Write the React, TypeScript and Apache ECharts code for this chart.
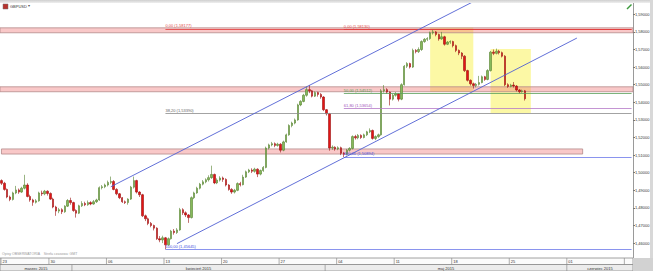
import { useEffect, useRef } from "react";
import * as echarts from "echarts";

const SYMBOL = "GBPUSD";
const SLOT_COUNT = 220;
const Y_MIN = 1.45;
const Y_MAX = 1.6;
const Y_STEP = 0.01;

// [open, close, low, high], one candle every 6 hours from 23.03.2015
const CANDLES: number[][] = [
  [1.4955, 1.494, 1.493, 1.4962], [1.494, 1.4905, 1.4898, 1.4948], [1.4905, 1.4862, 1.4855, 1.491], [1.4862, 1.4848, 1.4838, 1.487],
  [1.4848, 1.4885, 1.4842, 1.4892], [1.4885, 1.4902, 1.4878, 1.4925], [1.4902, 1.489, 1.488, 1.491], [1.489, 1.4912, 1.4885, 1.492],
  [1.4912, 1.493, 1.4905, 1.4988], [1.493, 1.4865, 1.486, 1.494], [1.4865, 1.4845, 1.4835, 1.4875], [1.4845, 1.4832, 1.4812, 1.4852],
  [1.4832, 1.484, 1.4825, 1.485], [1.484, 1.4885, 1.4835, 1.4892], [1.4885, 1.488, 1.4868, 1.4898], [1.488, 1.4895, 1.4872, 1.4902],
  [1.4895, 1.4882, 1.487, 1.49], [1.4882, 1.485, 1.4845, 1.4888], [1.485, 1.4805, 1.4798, 1.4858], [1.4805, 1.4782, 1.4755, 1.4812],
  [1.4782, 1.479, 1.477, 1.48], [1.479, 1.4778, 1.4765, 1.4798], [1.4778, 1.481, 1.4772, 1.4815], [1.481, 1.4842, 1.4805, 1.485],
  [1.4842, 1.483, 1.4818, 1.4858], [1.483, 1.4785, 1.4778, 1.4835], [1.4785, 1.477, 1.4745, 1.4792], [1.477, 1.4812, 1.4765, 1.4818],
  [1.4812, 1.4825, 1.4805, 1.4838], [1.4825, 1.4818, 1.481, 1.4835], [1.4818, 1.483, 1.4812, 1.4842], [1.483, 1.4822, 1.4815, 1.4838],
  [1.4822, 1.4835, 1.4818, 1.4845], [1.4835, 1.4845, 1.4828, 1.4852], [1.4845, 1.4915, 1.484, 1.4922], [1.4915, 1.492, 1.4905, 1.493],
  [1.492, 1.493, 1.4912, 1.4938], [1.493, 1.4945, 1.4922, 1.4955], [1.4945, 1.495, 1.4935, 1.4978], [1.495, 1.4905, 1.49, 1.4958],
  [1.4905, 1.488, 1.4872, 1.4912], [1.488, 1.4858, 1.485, 1.4885], [1.4858, 1.4835, 1.4828, 1.4862], [1.4835, 1.483, 1.4822, 1.4842],
  [1.483, 1.485, 1.4818, 1.4855], [1.485, 1.4918, 1.4845, 1.4925], [1.4918, 1.4955, 1.491, 1.4978], [1.4955, 1.489, 1.4882, 1.496],
  [1.489, 1.4875, 1.4862, 1.4895], [1.4875, 1.4755, 1.4748, 1.488], [1.4755, 1.4738, 1.4725, 1.4762], [1.4738, 1.4712, 1.4702, 1.4745],
  [1.4712, 1.47, 1.469, 1.472], [1.47, 1.4685, 1.4672, 1.4705], [1.4685, 1.4625, 1.4618, 1.469], [1.4625, 1.4618, 1.4605, 1.464],
  [1.4618, 1.463, 1.46, 1.4642], [1.463, 1.459, 1.4565, 1.4635], [1.459, 1.4625, 1.4585, 1.4632], [1.4625, 1.4668, 1.462, 1.4675],
  [1.4668, 1.466, 1.4648, 1.468], [1.466, 1.4675, 1.4652, 1.4685], [1.4675, 1.479, 1.467, 1.48], [1.479, 1.4772, 1.476, 1.4798],
  [1.4772, 1.476, 1.4748, 1.478], [1.476, 1.4745, 1.4715, 1.4765], [1.4745, 1.4858, 1.474, 1.4865], [1.4858, 1.4885, 1.485, 1.4892],
  [1.4885, 1.4912, 1.488, 1.492], [1.4912, 1.4935, 1.4905, 1.4942], [1.4935, 1.4948, 1.4928, 1.4958], [1.4948, 1.496, 1.494, 1.4968],
  [1.496, 1.4972, 1.495, 1.4985], [1.4972, 1.499, 1.4965, 1.504], [1.499, 1.4942, 1.4935, 1.4995], [1.4942, 1.4958, 1.4935, 1.4968],
  [1.4958, 1.497, 1.495, 1.498], [1.497, 1.4962, 1.4948, 1.4978], [1.4962, 1.493, 1.4922, 1.4968], [1.493, 1.4905, 1.4898, 1.4935],
  [1.4905, 1.489, 1.488, 1.4912], [1.489, 1.49, 1.4882, 1.4908], [1.49, 1.4938, 1.4895, 1.4945], [1.4938, 1.4932, 1.4922, 1.4948],
  [1.4932, 1.4975, 1.4928, 1.4988], [1.4975, 1.5005, 1.497, 1.5012], [1.5005, 1.5015, 1.4998, 1.5022], [1.5015, 1.5008, 1.4998, 1.5025],
  [1.5008, 1.502, 1.5, 1.5028], [1.502, 1.4992, 1.4975, 1.5025], [1.4992, 1.5012, 1.4985, 1.5018], [1.5012, 1.503, 1.5005, 1.5038],
  [1.503, 1.514, 1.5025, 1.5148], [1.514, 1.5158, 1.5132, 1.5165], [1.5158, 1.5165, 1.515, 1.5175], [1.5165, 1.5155, 1.5145, 1.5172],
  [1.5155, 1.5162, 1.5148, 1.517], [1.5162, 1.5128, 1.5115, 1.5168], [1.5128, 1.5175, 1.5122, 1.5182], [1.5175, 1.5215, 1.517, 1.5222],
  [1.5215, 1.5268, 1.521, 1.5275], [1.5268, 1.5282, 1.5258, 1.529], [1.5282, 1.53, 1.5275, 1.5308], [1.53, 1.5385, 1.5295, 1.5392],
  [1.5385, 1.5405, 1.5378, 1.5412], [1.5405, 1.544, 1.54, 1.5448], [1.544, 1.5472, 1.5432, 1.549], [1.5472, 1.5465, 1.5452, 1.5498],
  [1.5465, 1.5435, 1.5428, 1.547], [1.5435, 1.5455, 1.543, 1.5462], [1.5455, 1.5445, 1.5432, 1.546], [1.5445, 1.543, 1.542, 1.5452],
  [1.543, 1.5358, 1.535, 1.5435], [1.5358, 1.5335, 1.5325, 1.5362], [1.5335, 1.514, 1.5125, 1.534], [1.514, 1.5145, 1.513, 1.5155],
  [1.5145, 1.5135, 1.5125, 1.515], [1.5135, 1.5142, 1.5128, 1.515], [1.5142, 1.511, 1.51, 1.5148], [1.511, 1.5105, 1.5089, 1.5118],
  [1.5105, 1.5128, 1.5098, 1.5135], [1.5128, 1.5138, 1.512, 1.5145], [1.5138, 1.5205, 1.5132, 1.5212], [1.5205, 1.5198, 1.5188, 1.5215],
  [1.5198, 1.5212, 1.519, 1.522], [1.5212, 1.52, 1.5192, 1.5218], [1.52, 1.5215, 1.5195, 1.5222], [1.5215, 1.5232, 1.5208, 1.5238],
  [1.5232, 1.524, 1.5225, 1.5252], [1.524, 1.5195, 1.5188, 1.5245], [1.5195, 1.5205, 1.5185, 1.5212], [1.5205, 1.5215, 1.5198, 1.5222],
  [1.5215, 1.5465, 1.521, 1.5475], [1.5465, 1.5472, 1.5455, 1.5498], [1.5472, 1.5458, 1.5448, 1.548], [1.5458, 1.5418, 1.5382, 1.5462],
  [1.5418, 1.544, 1.541, 1.5448], [1.544, 1.5448, 1.5432, 1.5458], [1.5448, 1.5418, 1.5405, 1.5452], [1.5418, 1.55, 1.5412, 1.5508],
  [1.55, 1.5605, 1.5495, 1.5612], [1.5605, 1.562, 1.5595, 1.5628], [1.562, 1.56, 1.5592, 1.5625], [1.56, 1.5695, 1.5595, 1.5705],
  [1.5695, 1.5688, 1.5678, 1.5702], [1.5688, 1.57, 1.568, 1.5712], [1.57, 1.5745, 1.5692, 1.5752], [1.5745, 1.5758, 1.5738, 1.5765],
  [1.5758, 1.5762, 1.5748, 1.577], [1.5762, 1.5795, 1.5755, 1.5802], [1.5795, 1.58, 1.5785, 1.5815], [1.58, 1.5785, 1.5775, 1.5805],
  [1.5785, 1.576, 1.575, 1.579], [1.576, 1.5772, 1.5755, 1.58], [1.5772, 1.573, 1.5722, 1.5778], [1.573, 1.5742, 1.5725, 1.5748],
  [1.5742, 1.5745, 1.5732, 1.5752], [1.5745, 1.5722, 1.5712, 1.575], [1.5722, 1.5695, 1.5685, 1.5728], [1.5695, 1.568, 1.5668, 1.57],
  [1.568, 1.5662, 1.5645, 1.5685], [1.5662, 1.558, 1.5572, 1.5668], [1.558, 1.5525, 1.5518, 1.5585], [1.5525, 1.5505, 1.5495, 1.553],
  [1.5505, 1.5495, 1.5478, 1.5512], [1.5495, 1.5502, 1.5485, 1.551], [1.5502, 1.5512, 1.5495, 1.555], [1.5512, 1.5545, 1.5508, 1.5552],
  [1.5545, 1.553, 1.5522, 1.555], [1.553, 1.558, 1.5525, 1.5588], [1.558, 1.5685, 1.5575, 1.5692], [1.5685, 1.5678, 1.5668, 1.57],
  [1.5678, 1.569, 1.5672, 1.5705], [1.569, 1.5682, 1.5672, 1.5698], [1.5682, 1.5662, 1.5655, 1.5688], [1.5662, 1.55, 1.5492, 1.5668],
  [1.55, 1.549, 1.5482, 1.5508], [1.549, 1.5498, 1.5485, 1.5505], [1.5498, 1.5492, 1.5484, 1.5515], [1.5492, 1.547, 1.5462, 1.5498],
  [1.547, 1.546, 1.545, 1.5475], [1.546, 1.5465, 1.5455, 1.5472], [1.5465, 1.542, 1.541, 1.547],
];

// horizontal support / resistance zones spanning the whole chart: [top, bottom]
const FULL_ZONES: number[][] = [
  [1.5823, 1.5795],
  [1.5488, 1.546],
];
// zone limited in time: [fromSlot, toSlot, top, bottom]
const PARTIAL_ZONES: number[][] = [[0, 202, 1.5135, 1.5106]];
// yellow highlight boxes: [fromSlot, toSlot, top, bottom]
const HIGHLIGHTS: number[][] = [
  [149, 164, 1.5825, 1.5459],
  [170, 184, 1.5703, 1.5339],
];

const FIB_SLOTS = [57, 57, 57, 119, 119, 119, 119];
const FIB_VALUES = [1.58177, 1.5339, 1.45645, 1.5813, 1.54512, 1.53654, 1.50894];
const FIB_LABELS = [
  "0,00 (1,58177)",
  "38,20 (1,53390)",
  "100,00 (1,45645)",
  "0,00 (1,58130)",
  "50,00 (1,54512)",
  "61,80 (1,53654)",
  "100,00 (1,50894)",
];
const FIB_COLORS = ["#e23a3a", "#8c8c8c", "#6c78ea", "#e23a3a", "#5aa05a", "#b57ac8", "#6c78ea"];
const FIB_TEXT_COLORS = ["#e04848", "#666666", "#3f4ee0", "#e04848", "#4f9a4f", "#a050b8", "#3f4ee0"];

// channel lines: [slotA, priceA, slotB, priceB]
const CHANNELS: number[][] = [
  [38, 1.492, 167, 1.5997],
  [61, 1.4597, 200, 1.5765],
];

const WEEK_SLOTS = [0, 17, 37, 57, 77, 97, 117, 137, 157, 177, 197, 217];
const WEEK_LABELS = ["23", "30", "06", "13", "20", "27", "04", "11", "18", "25", "01", ""];
const MONTH_BOUNDS = [0, 25, 113, 197, 220];
const MONTH_LABELS = ["marzec 2015", "kwiecień 2015", "maj 2015", "czerwiec 2015"];

const FONT = "Liberation Sans, Arial, sans-serif";

export default function App() {
  const ref = useRef<HTMLDivElement>(null);

  useEffect(() => {
    if (!ref.current) return;
    const chart = echarts.init(ref.current, null, { renderer: "svg" });
    const slots = Array.from({ length: SLOT_COUNT }, (_, i) => "c" + i);

    const areaData: any[] = [];
    HIGHLIGHTS.forEach((h) => {
      areaData.push([
        { xAxis: h[0], yAxis: h[2], itemStyle: { color: "rgba(250,244,110,0.62)", borderWidth: 0 } },
        { xAxis: h[1], yAxis: h[3] },
      ]);
    });
    const zoneStyle = { color: "rgba(238,110,110,0.38)", borderColor: "#b48a8a", borderWidth: 0.8 };
    FULL_ZONES.forEach((z) => {
      areaData.push([{ yAxis: z[0], itemStyle: zoneStyle }, { yAxis: z[1] }]);
    });
    PARTIAL_ZONES.forEach((z) => {
      areaData.push([
        { xAxis: z[0], yAxis: z[2], itemStyle: zoneStyle },
        { xAxis: z[1], yAxis: z[3] },
      ]);
    });

    const lineData: any[] = [];
    FIB_VALUES.forEach((v, k) => {
      lineData.push([
        {
          coord: [FIB_SLOTS[k], v],
          lineStyle: { color: FIB_COLORS[k], width: 0.8, type: "solid" },
          label: {
            show: true,
            position: "insideStartTop",
            formatter: FIB_LABELS[k],
            color: FIB_TEXT_COLORS[k],
            fontSize: 4,
            fontFamily: FONT,
            distance: [0, 1],
          },
        },
        { coord: [SLOT_COUNT - 1, v] },
      ]);
    });
    CHANNELS.forEach((c) => {
      lineData.push([
        { coord: [c[0], c[1]], lineStyle: { color: "#5060d4", width: 0.9, type: "solid" }, label: { show: false } },
        { coord: [c[2], c[3]] },
      ]);
    });

    chart.setOption({
      animation: false,
      backgroundColor: "#ffffff",
      grid: { left: 0, right: 20, top: -3.3, bottom: 10.3, containLabel: false, outerBoundsMode: "none" },
      xAxis: {
        type: "category",
        data: slots,
        boundaryGap: true,
        show: false,
      },
      yAxis: {
        type: "value",
        position: "right",
        min: Y_MIN,
        max: Y_MAX,
        interval: Y_STEP,
        scale: true,
        axisLine: { show: true, lineStyle: { color: "#9a9a9a", width: 1 } },
        axisTick: { show: true, length: 2, lineStyle: { color: "#777" } },
        splitLine: { show: false },
        axisLabel: {
          margin: 2,
          fontSize: 4,
          fontFamily: FONT,
          color: "#333",
          formatter: (v: number) => (v < 1.455 || v > 1.595 ? "" : v.toFixed(5).replace(".", ",")),
        },
      },
      series: [
        {
          type: "line",
          data: [],
          z: 1,
          silent: true,
          markArea: { silent: true, data: areaData },
        },
        {
          type: "candlestick",
          data: CANDLES,
          z: 3,
          barWidth: 1.9,
          itemStyle: {
            color: "#86b95b",
            color0: "#e31414",
            borderColor: "#55822f",
            borderColor0: "#9a1010",
            borderWidth: 0.6,
          },
        },
        {
          type: "line",
          data: [],
          z: 4,
          silent: true,
          markLine: { silent: true, symbol: ["none", "none"], data: lineData },
        },
      ],
    });

    const cx = (k: number) => chart.convertToPixel({ xAxisIndex: 0 }, k) as number;
    const band = cx(1) - cx(0);
    const bx = (k: number) => {
      const kk = Math.min(k, SLOT_COUNT - 1);
      return cx(kk) + (k - kk) * band - band / 2;
    };
    const W = 653;
    const H = 271;
    const plotRight = bx(SLOT_COUNT);
    const barTop = 258;
    const rowMid = 264.5;

    const g: any[] = [
      {
        type: "rect",
        shape: { x: 0, y: 0, width: W, height: 3 },
        style: {
          fill: new echarts.graphic.LinearGradient(0, 0, 0, 1, [
            { offset: 0, color: "#cfcfcf" },
            { offset: 1, color: "#efefef" },
          ]),
        },
        z: 50,
      },
      { type: "rect", shape: { x: W - 3, y: 0, width: 3, height: H }, style: { fill: "#d8d8d8" }, z: 50 },
      { type: "rect", shape: { x: 3, y: 4, width: 5, height: 5 }, style: { fill: "#b8332e", stroke: "#777", lineWidth: 0.5 }, z: 50 },
      {
        type: "text",
        x: 10,
        y: 6.6,
        style: { text: SYMBOL, fontSize: 4, fontFamily: FONT, fill: "#333", verticalAlign: "middle" },
        z: 50,
      },
      {
        type: "text",
        x: 27.5,
        y: 6.2,
        style: { text: "▾", fontSize: 3.5, fontFamily: FONT, fill: "#555", verticalAlign: "middle" },
        z: 50,
      },
      { type: "line", shape: { x1: 627, y1: 9, x2: 631.5, y2: 4.5 }, style: { stroke: "#3c9a3c", lineWidth: 1.4 }, z: 50 },
      {
        type: "text",
        x: 2,
        y: 253.5,
        style: {
          text: "Opisy OBSERWATORIA    Strefa czasowa: GMT",
          fontSize: 3.5,
          fontFamily: FONT,
          fill: "#9a9a9a",
          verticalAlign: "middle",
        },
        z: 50,
      },
      { type: "rect", shape: { x: 0, y: barTop, width: plotRight, height: rowMid - barTop }, style: { fill: "#fbfbfb", stroke: "#8c8c8c", lineWidth: 0.8 }, z: 50 },
      { type: "rect", shape: { x: 0, y: rowMid, width: plotRight, height: H - rowMid }, style: { fill: "#ececec", stroke: "#8c8c8c", lineWidth: 0.8 }, z: 50 },
      { type: "rect", shape: { x: plotRight, y: barTop, width: W - plotRight, height: H - barTop }, style: { fill: "#d2d2d2" }, z: 50 },
    ];
    WEEK_SLOTS.forEach((s, k) => {
      const x = Math.max(bx(s), 1);
      g.push({ type: "line", shape: { x1: x, y1: barTop, x2: x, y2: rowMid }, style: { stroke: "#8c8c8c", lineWidth: 0.7 }, z: 51 });
      if (WEEK_LABELS[k]) {
        g.push({
          type: "text",
          x: x + 1.5,
          y: (barTop + rowMid) / 2 + 0.3,
          style: { text: WEEK_LABELS[k], fontSize: 4, fontFamily: FONT, fill: "#333", verticalAlign: "middle" },
          z: 52,
        });
      }
    });
    MONTH_LABELS.forEach((m, k) => {
      const x0 = bx(MONTH_BOUNDS[k]);
      const x1 = bx(MONTH_BOUNDS[k + 1]);
      if (k > 0) {
        g.push({ type: "line", shape: { x1: x0, y1: rowMid, x2: x0, y2: H }, style: { stroke: "#8c8c8c", lineWidth: 0.7 }, z: 51 });
      }
      g.push({
        type: "text",
        x: (x0 + x1) / 2,
        y: (rowMid + H) / 2 + 0.3,
        style: { text: m, fontSize: 4, fontFamily: FONT, fill: "#333", align: "center", verticalAlign: "middle" },
        z: 52,
      });
    });
    chart.setOption({ graphic: g });

    return () => chart.dispose();
  }, []);

  return (
    <div
      ref={ref}
      style={{ position: "fixed", left: 0, top: 0, width: 653, height: 271, background: "#fff" }}
    />
  );
}
